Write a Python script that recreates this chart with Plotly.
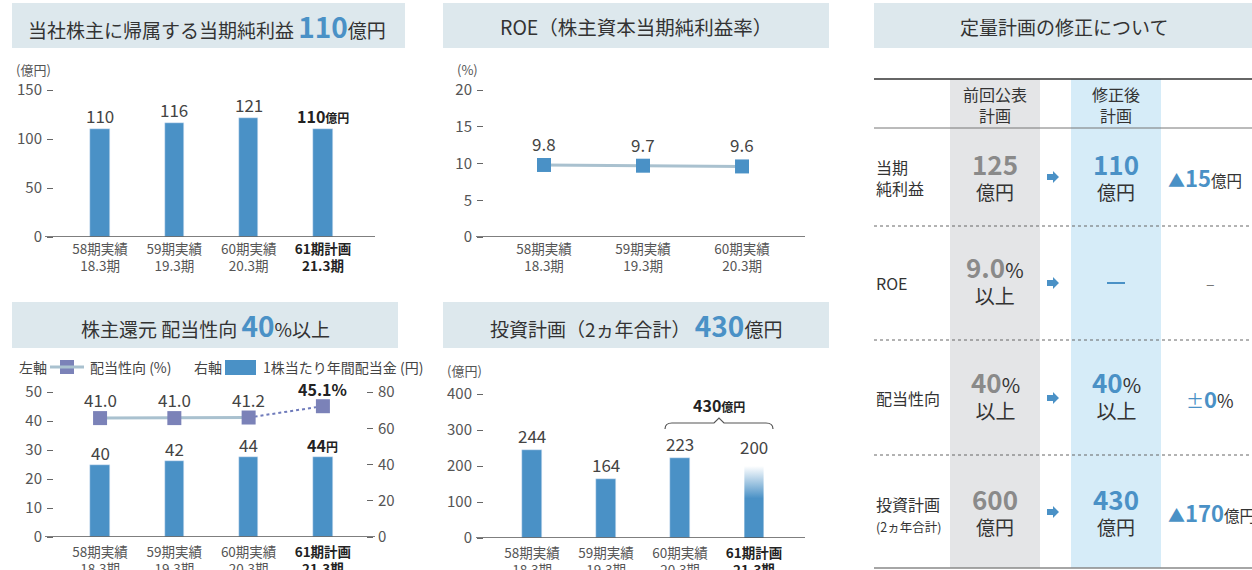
import plotly.graph_objects as go

W, H = 1252, 570
FONT = "Noto Sans CJK JP"
BLUE = "#4a91c6"
DARK = "#333333"
GRAY_TXT = "#555555"
HEADER_BG = "#dde8ed"

# ---------------- data ----------------
cats_4 = ["58期実績<br>18.3期", "59期実績<br>19.3期", "60期実績<br>20.3期",
          "<span style='color:#222'><b>61期計画</b><br><b>21.3期</b></span>"]
cats_3 = ["58期実績<br>18.3期", "59期実績<br>19.3期", "60期実績<br>20.3期"]

net_income = [110, 116, 121, 110]          # 億円
roe = [9.8, 9.7, 9.6]                       # %
payout = [41.0, 41.0, 41.2, 45.1]           # % (left axis)
dividend = [40, 42, 44, 44]                 # 円 (right axis)
invest = [244, 164, 223, 200]               # 億円
invest_total = 430                          # 億円 (2ヵ年合計)

tbl_rows = ["当期<br>純利益", "ROE", "配当性向",
            "投資計画<br><span style='font-size:12.5px'>(2ヵ年合計)</span>"]
tbl_prev_num = ["125", "9.0", "40", "600"]
tbl_prev_unit = ["億円", "%", "%", "億円"]
tbl_prev_sub = ["", "以上", "以上", ""]
tbl_new_num = ["110", "—", "40", "430"]
tbl_new_unit = ["億円", "", "%", "億円"]
tbl_new_sub = ["", "", "以上", ""]
tbl_diff = ["▲15", "–", "±0", "▲170"]
tbl_diff_unit = ["億円", "", "%", "億円"]


def px(x):
    return x / W


def py(y):
    return 1 - y / H


fig = go.Figure()

# ---------------- traces ----------------
xi4 = list(range(4))
xi3 = list(range(3))
BW = 0.26

fig.add_trace(go.Bar(x=xi4, y=net_income, width=BW, marker_color=BLUE,
                     xaxis="x", yaxis="y", showlegend=False))

fig.add_trace(go.Scatter(x=xi3, y=roe, mode="lines+markers",
                         line=dict(color="#a9c1cf", width=3),
                         marker=dict(symbol="square", size=14, color=BLUE),
                         xaxis="x2", yaxis="y2", showlegend=False))

fig.add_trace(go.Bar(x=xi4, y=dividend, width=BW, marker_color=BLUE,
                     xaxis="x3", yaxis="y5", showlegend=False))
fig.add_trace(go.Scatter(x=xi4[2:], y=payout[2:], mode="lines",
                         line=dict(color="#6f7bbb", width=2, dash="dot"),
                         xaxis="x3", yaxis="y3", showlegend=False))
fig.add_trace(go.Scatter(x=xi4[:3], y=payout[:3], mode="lines",
                         line=dict(color="#a9c1cf", width=3),
                         xaxis="x3", yaxis="y3", showlegend=False))
fig.add_trace(go.Scatter(x=xi4, y=payout, mode="markers",
                         marker=dict(symbol="square", size=14, color="#7b82b8"),
                         xaxis="x3", yaxis="y3", showlegend=False))

fig.add_trace(go.Bar(x=xi4[:3], y=invest[:3], width=BW, marker_color=BLUE,
                     xaxis="x4", yaxis="y4", showlegend=False))
# planned bar with vertical gradient fade
lx, rx = xi4[3] - BW / 2, xi4[3] + BW / 2
fig.add_trace(go.Scatter(x=[lx, rx, rx, lx, lx], y=[0, 0, invest[3], invest[3], 0],
                         mode="lines", line=dict(width=0), fill="toself",
                         fillgradient=dict(type="vertical", start=0, stop=invest[3],
                                           colorscale=[[0, BLUE], [0.55, BLUE], [1, "rgba(255,255,255,1)"]]),
                         xaxis="x4", yaxis="y4", showlegend=False, hoverinfo="skip"))

# ---------------- axes ----------------
tickfont_y = dict(family=FONT, size=15, color=GRAY_TXT)
tickfont_x = dict(family=FONT, size=13.5, color=GRAY_TXT)
yax_common = dict(showgrid=False, zeroline=False, showline=False, ticks="outside",
                  ticklen=6, tickcolor="#666", tickwidth=1, tickfont=tickfont_y,
                  fixedrange=True, automargin=False)
xax_common = dict(showgrid=False, zeroline=False, showline=False, ticks="",
                  tickfont=tickfont_x, fixedrange=True, automargin=False)

fig.update_layout(
    xaxis=dict(domain=[px(54), px(375)], range=[-0.62, 3.70], tickvals=xi4, ticktext=cats_4,
               anchor="y", ticklabelstandoff=2, **xax_common),
    yaxis=dict(domain=[py(237), py(90)], range=[0, 150], tickvals=[0, 50, 100, 150],
               anchor="x", ticklabelstandoff=2, **yax_common),
    xaxis2=dict(domain=[px(484), px(805)], range=[-0.606, 2.636], tickvals=xi3, ticktext=cats_3,
                anchor="y2", ticklabelstandoff=2, **xax_common),
    yaxis2=dict(domain=[py(237), py(90)], range=[0, 20], tickvals=[0, 5, 10, 15, 20],
                anchor="x2", ticklabelstandoff=2, **yax_common),
    xaxis3=dict(domain=[px(54), px(366)], range=[-0.62, 3.58], tickvals=xi4, ticktext=cats_4,
                anchor="y3", ticklabelstandoff=5, **xax_common),
    yaxis3=dict(domain=[py(537), py(392)], range=[0, 50], tickvals=[0, 10, 20, 30, 40, 50],
                anchor="x3", ticklabelstandoff=2, **yax_common),
    yaxis5=dict(range=[0, 80], tickvals=[0, 20, 40, 60, 80], overlaying="y3", side="right",
                anchor="x3", ticklabelstandoff=2, **yax_common),
    xaxis4=dict(domain=[px(484), px(805)], range=[-0.65, 3.69], tickvals=xi4, ticktext=cats_4,
                anchor="y4", ticklabelstandoff=5, **xax_common),
    yaxis4=dict(domain=[py(538), py(394)], range=[0, 400], tickvals=[0, 100, 200, 300, 400],
                anchor="x4", ticklabelstandoff=2, **yax_common),
)

shapes = []
annos = []


def rect(x0, y0, x1, y1, color):
    shapes.append(dict(type="rect", xref="paper", yref="paper", x0=px(x0), x1=px(x1),
                       y0=py(y1), y1=py(y0), fillcolor=color, line=dict(width=0), layer="below"))


def hline(x0, x1, y, color, width=1, dash="solid"):
    shapes.append(dict(type="line", xref="paper", yref="paper", x0=px(x0), x1=px(x1),
                       y0=py(y), y1=py(y), line=dict(color=color, width=width, dash=dash)))


def text(x, y, s, size=15, color=DARK, xanchor="center", yanchor="middle", align="center"):
    annos.append(dict(x=px(x), y=py(y), xref="paper", yref="paper", text=s, showarrow=False,
                      xanchor=xanchor, yanchor=yanchor, align=align,
                      font=dict(family=FONT, size=size, color=color)))


# ---------------- headers ----------------
rect(12, 3, 405, 48, HEADER_BG)
rect(443, 3, 829, 48, HEADER_BG)
rect(12, 302, 398, 348, HEADER_BG)
rect(443, 302, 829, 348, HEADER_BG)
rect(874, 3, 1252, 48, HEADER_BG)

text(207, 26, "当社株主に帰属する当期純利益 <span style='font-size:28px;color:%s'><b>110</b></span>億円" % BLUE, 19)
text(636, 26, "ROE（株主資本当期純利益率）", 19.5)
text(205, 325, "株主還元 配当性向 <span style='font-size:28px;color:%s'><b>40</b></span>%%以上" % BLUE, 19)
text(636, 325, "投資計画（2ヵ年合計） <span style='font-size:28px;color:%s'><b>430</b></span>億円" % BLUE, 19)
text(1064, 26, "定量計画の修正について", 19)

# unit labels
text(14, 70, "(億円)", 13, GRAY_TXT, xanchor="left")
text(455, 70, "(%)", 13, GRAY_TXT, xanchor="left")
text(445, 370, "(億円)", 13, GRAY_TXT, xanchor="left")

# baselines
for yr, x0, x1 in [("y", 45, 375), ("y2", 476, 805), ("y3", 45, 375), ("y4", 476, 805)]:
    shapes.append(dict(type="line", xref="paper", yref=yr, x0=px(x0), x1=px(x1), y0=0, y1=0,
                       line=dict(color="#555", width=1.5)))

# ---------------- value labels ----------------
VAL = dict(family=FONT, size=17, color="#444")
BOLDV = dict(family=FONT, size=16, color="#222")
for i, v in enumerate(net_income):
    t = str(v) if i < 3 else "<b>%d</b><span style='font-size:12px'><b>億円</b></span>" % v
    annos.append(dict(x=i, y=v, xref="x", yref="y", text=t, showarrow=False, yanchor="bottom",
                      yshift=-1, font=VAL if i < 3 else BOLDV))
for i, v in enumerate(roe):
    annos.append(dict(x=i, y=v, xref="x2", yref="y2", text="%.1f" % v, showarrow=False,
                      yanchor="bottom", yshift=7, font=VAL))
for i, v in enumerate(payout):
    t = "%.1f" % v if i < 3 else "<b>%.1f%%</b>" % v
    annos.append(dict(x=i, y=v, xref="x3", yref="y3", text=t, showarrow=False,
                      yanchor="bottom", yshift=4 if i < 3 else 3,
                      font=VAL if i < 3 else BOLDV))
for i, v in enumerate(dividend):
    t = str(v) if i < 3 else "<b>%d</b><span style='font-size:12px'><b>円</b></span>" % v
    annos.append(dict(x=i, y=v, xref="x3", yref="y5", text=t, showarrow=False,
                      yanchor="bottom", yshift=-2, font=VAL if i < 3 else BOLDV))
for i, v in enumerate(invest):
    annos.append(dict(x=i, y=v, xref="x4", yref="y4", text=str(v), showarrow=False,
                      yanchor="bottom", yshift=0 if i < 3 else 5, font=VAL))

# brace over last two investment bars
bx0, bx1, by, bt = 665, 773, 423, 429
bm = (bx0 + bx1) / 2


def P(x, y):
    return "%f,%f" % (px(x), py(y))


brace = ("M " + P(bx0, bt) + " Q " + P(bx0, by) + " " + P(bx0 + 7, by) +
         " L " + P(bm - 5, by) + " L " + P(bm, by - 5) + " L " + P(bm + 5, by) +
         " L " + P(bx1 - 7, by) + " Q " + P(bx1, by) + " " + P(bx1, bt))
shapes.append(dict(type="path", xref="paper", yref="paper", path=brace,
                   line=dict(color="#555", width=1.2)))
text(bm, 405, "<b>%d</b><span style='font-size:12px'><b>億円</b></span>" % invest_total, 16, "#222")

# legend row for panel 3
LEG = 14
text(17, 367, "左軸", LEG, "#444", xanchor="left")
hline(50, 84, 367, "#a9c1cf", 3)
rect(60, 360, 74, 374, "#7b82b8")
text(88, 367, "配当性向 (%)", LEG, "#444", xanchor="left")
text(192, 367, "右軸", LEG, "#444", xanchor="left")
rect(225, 360, 256, 375, BLUE)
text(261, 367, "1株当たり年間配当金 (円)", LEG, "#444", xanchor="left")

# ---------------- table ----------------
rect(950, 79, 1040, 568, "#e4e5e7")
rect(1071, 79, 1161, 568, "#d6ecf8")
hline(874, 1252, 79, "#333", 1.5)
hline(874, 1252, 128, "#777", 1)
for yy in [226, 340, 455]:
    hline(874, 1252, yy, "#666", 1, "dot")
hline(874, 1252, 568, "#888", 1.5)

text(995, 104, "前回公表<br>計画", 16)
text(1116, 104, "修正後<br>計画", 16)

row_c = [177, 283, 398, 512]
GRAYNUM = "#8a8a8a"


def cell(xc, yc, num, unit, sub, color):
    n = "<span style='font-size:26px;color:%s'><b>%s</b></span>" % (color, num)
    if unit == "%":
        s = n + "<span style='font-size:20px'>%</span><br>" + sub
        text(xc, yc - 4, s, 20)
    else:
        s = n + "<br>" + unit
        text(xc, yc - 2, s, 19)


for r, yc in enumerate(row_c):
    text(874, yc if r < 3 else yc + 2, tbl_rows[r], 16, xanchor="left", align="left")
    cell(995, yc, tbl_prev_num[r], tbl_prev_unit[r], tbl_prev_sub[r], GRAYNUM)
    # arrow
    ax, ay = 1053, yc
    arrow = ("M " + P(ax - 6, ay - 3) + " L " + P(ax, ay - 3) + " L " + P(ax, ay - 6) +
             " L " + P(ax + 6, ay) + " L " + P(ax, ay + 6) + " L " + P(ax, ay + 3) +
             " L " + P(ax - 6, ay + 3) + " Z")
    shapes.append(dict(type="path", xref="paper", yref="paper", path=arrow,
                       fillcolor=BLUE, line=dict(width=0)))
    if tbl_new_num[r] == "—":
        hline(1107, 1125, yc, BLUE, 2)
    else:
        cell(1116, yc, tbl_new_num[r], tbl_new_unit[r], tbl_new_sub[r], BLUE)
    d = tbl_diff[r]
    if d == "–":
        text(1210, yc, "–", 16, "#777")
    elif d.startswith("±"):
        text(1210, yc, "<span style='color:%s'>±<b><span style='font-size:22px'>%s</span></b></span>%s"
             % (BLUE, d[1:], tbl_diff_unit[r]), 18)
    else:
        text(1166, yc, "<span style='color:%s;font-size:17px'>▲</span><span style='color:%s;font-size:22px'><b>%s</b></span>%s"
             % (BLUE, BLUE, d[1:], tbl_diff_unit[r]), 15.5, xanchor="left")

fig.update_layout(
    width=W, height=H, margin=dict(l=0, r=0, t=0, b=0, autoexpand=False),
    paper_bgcolor="white", plot_bgcolor="rgba(0,0,0,0)",
    font=dict(family=FONT, color=DARK),
    shapes=shapes, annotations=annos, showlegend=False,
    bargap=0,
)

fig.write_html("out.html")
